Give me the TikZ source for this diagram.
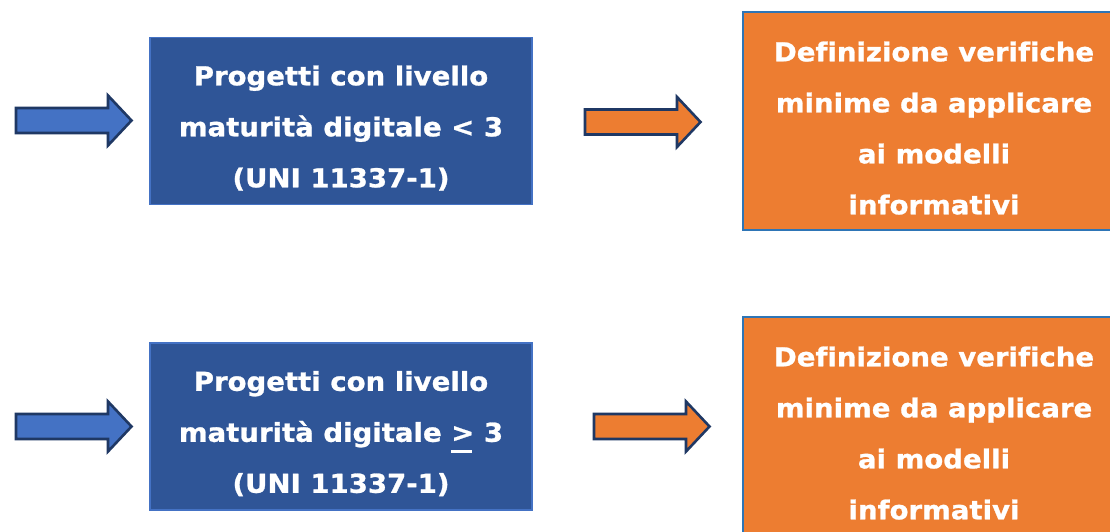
\documentclass[tikz,border=0pt]{standalone}
\usepackage{fontspec}
\setmainfont[FakeStretch=1.06,FakeBold=1,Ligatures=NoCommon]{DejaVu Sans}
\usepackage{tikz}
\usetikzlibrary{positioning}
\definecolor{boxblue}{HTML}{2F5597}
\definecolor{boxedge}{HTML}{4472C4}
\definecolor{orange}{HTML}{ED7D31}
\definecolor{orangeedge}{HTML}{2E75B6}
\definecolor{arrblue}{HTML}{4472C4}
\definecolor{navy}{HTML}{1F3864}
% pushes the text block a little lower inside its box
\newcommand{\topgap}{\rule{0pt}{34pt}}
% underlined ">" as in the slide
\newcommand{\ulgt}{\rlap{\rule[-11.5pt]{21pt}{2.8pt}}>}

\tikzset{
  project/.style={draw=boxedge,line width=1.2pt,fill=boxblue,minimum width=382pt,minimum height=167pt,
    align=center,text=white,font=\bfseries\fontsize{26}{51}\selectfont},
  check/.style={draw=orangeedge,line width=2pt,fill=orange,minimum width=382pt,minimum height=218pt,
    align=center,text=white,font=\bfseries\fontsize{26}{51}\selectfont},
  blockarr/.style={draw=navy,line width=2.6pt,line join=miter}
}

\begin{document}
\begin{tikzpicture}[x=1pt,y=1pt]
  \useasboundingbox (0,0) rectangle (1110,531);
  \clip (0,0) rectangle (1110,531);
  \fill[white] (0,0) rectangle (1110,531);
  % projects
  \node[project] (low) at (341,410) {\topgap Progetti con livello\\maturità digitale < 3\\(UNI 11337-1)};
  \node[project] (high) at (341,104.5) {\topgap Progetti con livello\\maturità digitale \ulgt{} 3\\(UNI 11337-1)};
  % checks
  \node[check] (lowcheck) at (934,410) {\topgap Definizione verifiche\\minime da applicare\\ai modelli\\informativi};
  \node[check] (highcheck) at (934,105) {\topgap Definizione verifiche\\minime da applicare\\ai modelli\\informativi};
  % block arrows
  \draw[blockarr,fill=arrblue] (16,398) coordinate (inlow) -- ++(92,0) -- ++(0,-12.5) -- ++(23.5,25) -- ++(-23.5,25) -- ++(0,-12.5) -- ++(-92,0) -- cycle;
  \draw[blockarr,fill=orange] (585,396.5) coordinate (outlow) -- ++(92,0) -- ++(0,-12.5) -- ++(23.5,25) -- ++(-23.5,25) -- ++(0,-12.5) -- ++(-92,0) -- cycle;
  \draw[blockarr,fill=arrblue] (16,92) coordinate (inhigh) -- ++(92,0) -- ++(0,-12.5) -- ++(23.5,25) -- ++(-23.5,25) -- ++(0,-12.5) -- ++(-92,0) -- cycle;
  \draw[blockarr,fill=orange] (594,92) coordinate (outhigh) -- ++(92,0) -- ++(0,-12.5) -- ++(23.5,25) -- ++(-23.5,25) -- ++(0,-12.5) -- ++(-92,0) -- cycle;
\end{tikzpicture}
\end{document}
